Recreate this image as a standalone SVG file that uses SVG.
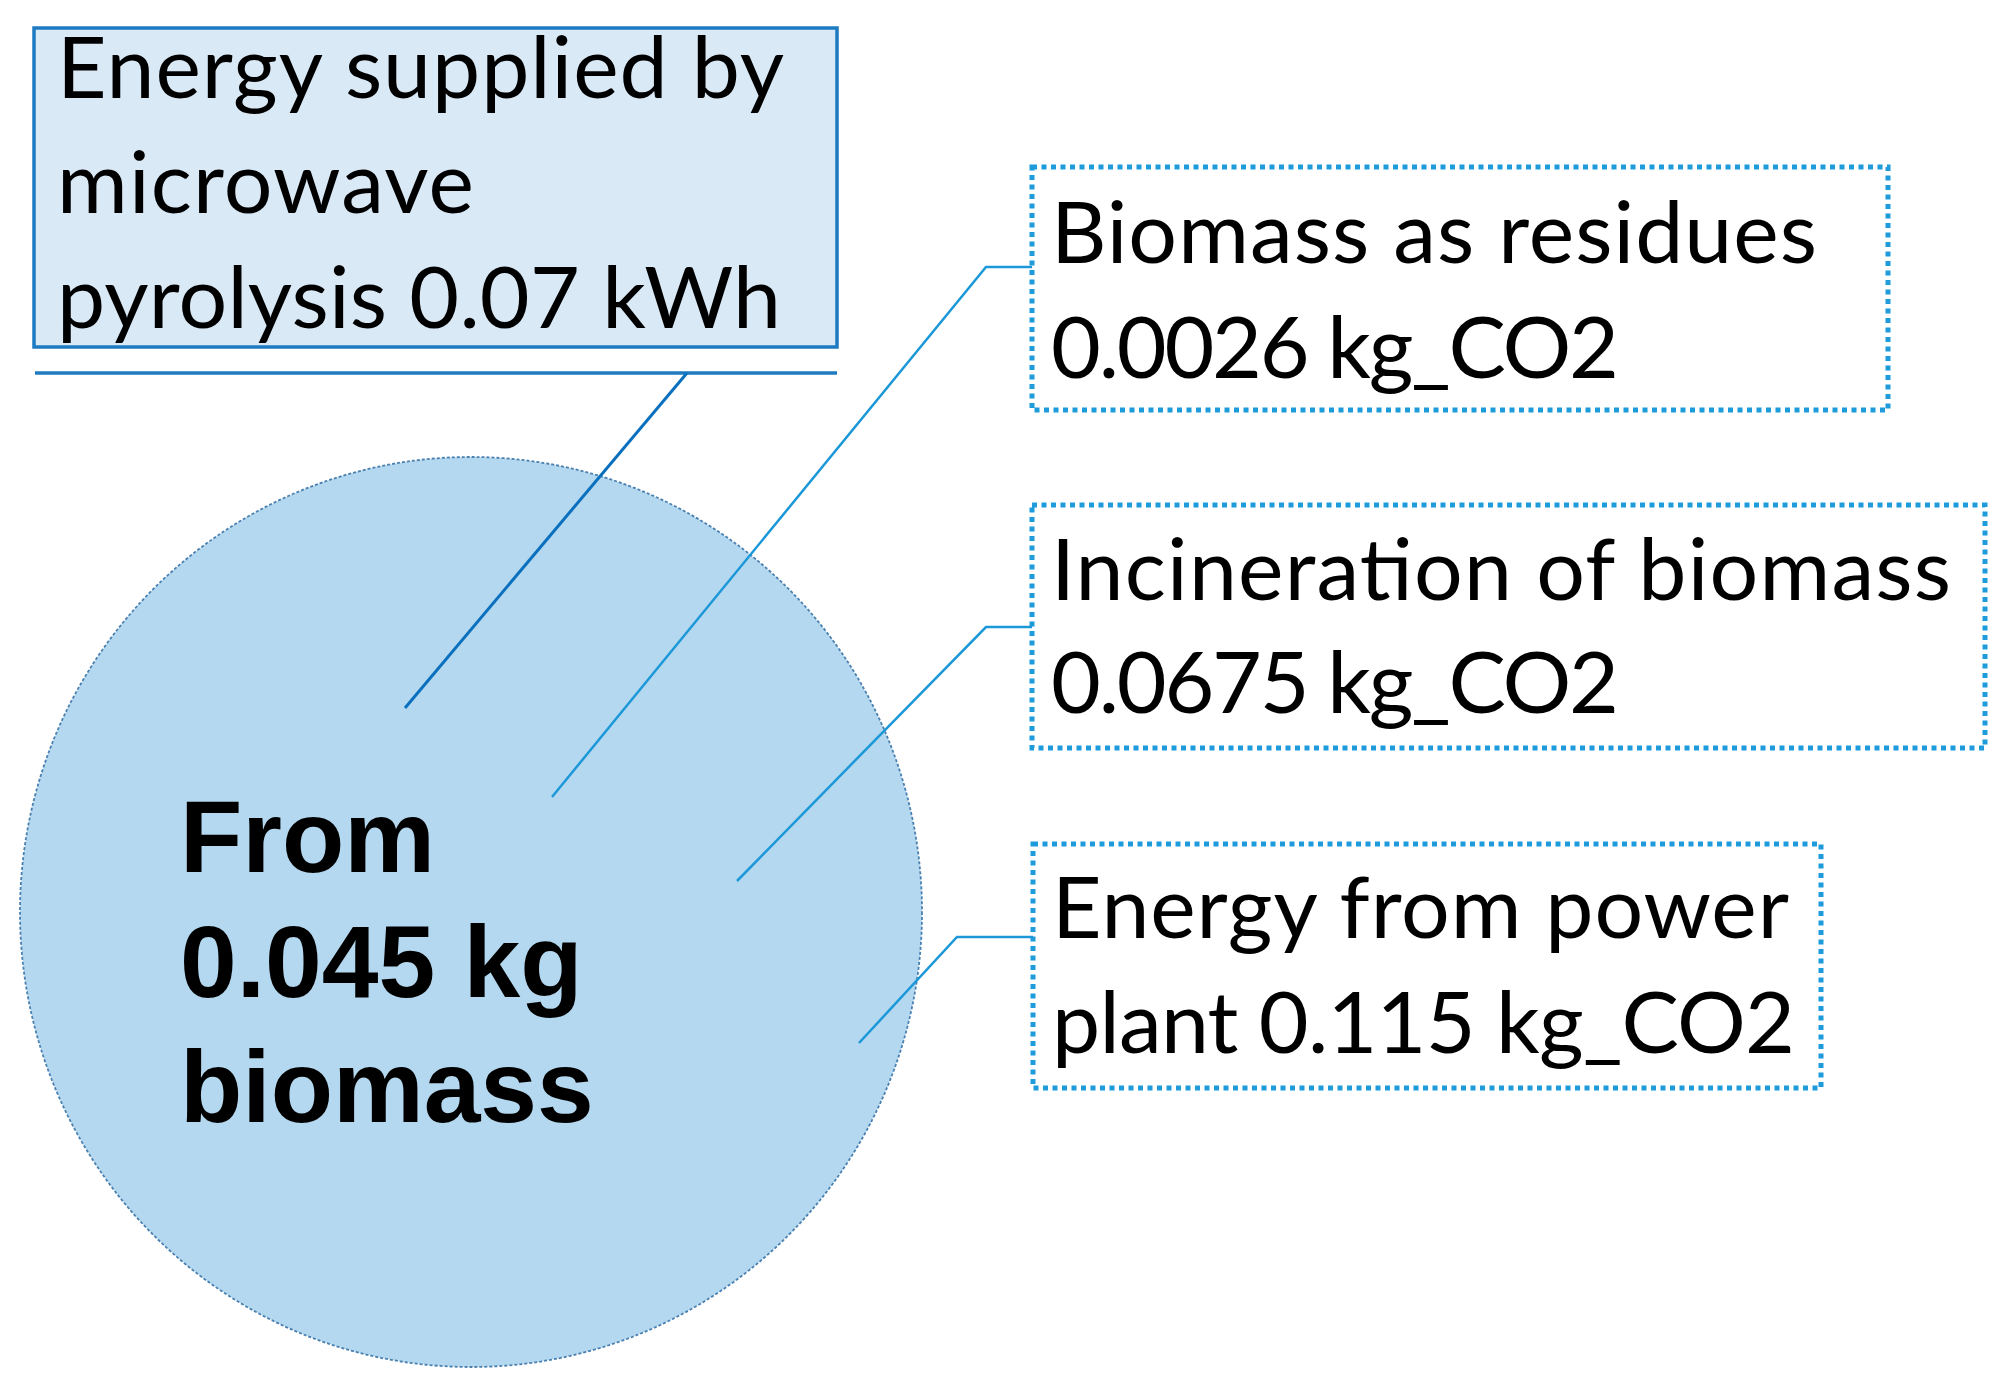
<svg xmlns="http://www.w3.org/2000/svg" width="2011" height="1398" viewBox="0 0 2011 1398">
<style>
  .lbl { font-family: Lato, "Open Sans", "Liberation Sans", sans-serif; font-size: 86px; fill: #000; }
  .big { font-family: "Liberation Sans", Arial, sans-serif; font-weight: bold; font-size: 102px; fill: #000; }
  .dotbox { fill: #ffffff; stroke: #1E9BDB; stroke-width: 5; stroke-dasharray: 5 4.5; }
  .conn { fill: none; stroke: #1C98D8; stroke-width: 2.5; stroke-linejoin: miter; }
</style>
<rect x="0" y="0" width="2011" height="1398" fill="#ffffff"/>

<g id="source-circle">
  <ellipse cx="471" cy="912" rx="451" ry="455" fill="#B4D8EF" stroke="#4A80B0" stroke-width="1.8" stroke-dasharray="3 2"/>
  <text class="big" x="180" y="872">From</text>
  <text class="big" x="180" y="997">0.045 kg</text>
  <text class="big" x="180" y="1122">biomass</text>
</g>

<g id="energy-microwave">
  <rect x="34" y="28" width="803" height="319" fill="#DAE9F6" stroke="#1E7BC2" stroke-width="3.5"/>
  <line x1="35" y1="373" x2="837" y2="373" stroke="#1E7BC2" stroke-width="3.5"/>
  <text class="lbl" x="57" y="98" textLength="727">Energy supplied by</text>
  <text class="lbl" x="57" y="213" textLength="417">microwave</text>
  <text class="lbl" x="57" y="328" textLength="724">pyrolysis 0.07 kWh</text>
</g>

<g id="biomass-residues">
  <rect class="dotbox" x="1032" y="167" width="856" height="243"/>
  <text class="lbl" x="1051" y="263" textLength="766">Biomass as residues</text>
  <text class="lbl" x="1051" y="378" textLength="568">0.0026 kg_CO2</text>
</g>

<g id="incineration">
  <rect class="dotbox" x="1032" y="505" width="953" height="243"/>
  <text class="lbl" x="1051" y="600" textLength="900">Incineration of biomass</text>
  <text class="lbl" x="1051" y="713" textLength="568">0.0675 kg_CO2</text>
</g>

<g id="power-plant">
  <rect class="dotbox" x="1033" y="844" width="788" height="244"/>
  <text class="lbl" x="1052" y="938" textLength="737">Energy from power</text>
  <text class="lbl" x="1052" y="1053" textLength="743">plant 0.115 kg_CO2</text>
</g>

<g id="connectors">
  <line x1="687" y1="373" x2="405" y2="708" stroke="#0A70BE" stroke-width="3"/>
  <polyline class="conn" points="552,797 986,267 1032,267"/>
  <polyline class="conn" points="737,881 986,627 1032,627"/>
  <polyline class="conn" points="859,1043 957,937 1033,937"/>
</g>
</svg>
